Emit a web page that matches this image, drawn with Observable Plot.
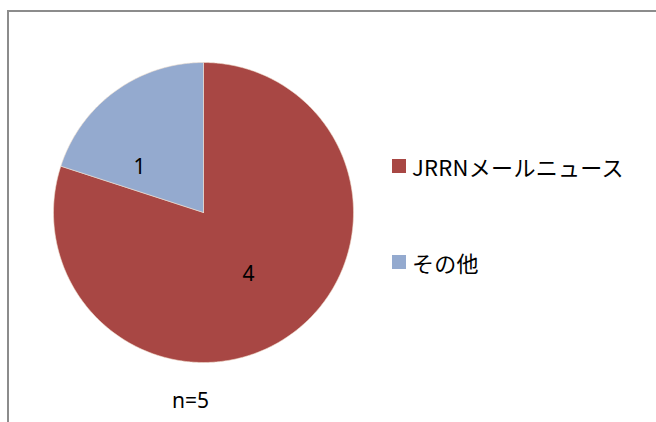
<!DOCTYPE html>
<html>
<head>
<meta charset="utf-8">
<script src="https://cdn.jsdelivr.net/npm/d3@7"></script>
<script src="https://cdn.jsdelivr.net/npm/@observablehq/plot@0.6"></script>
<style>
  html, body { margin: 0; padding: 0; background: #fff; overflow: hidden; }
  #wrap { position: relative; width: 656px; height: 422px; overflow: hidden;
          font-family: "Noto Sans CJK JP", "Noto Sans", sans-serif; }
  #frame { position: absolute; left: 7px; top: 10px; width: 720px; height: 500px;
           border: 2px solid #8c8c8c; box-sizing: border-box; }
  #chart { position: absolute; left: 0; top: 0; }
  #legend { position: absolute; left: 392px; top: 153px; }
  .item { display: flex; align-items: center; height: 26px; font-size: 22px; color: #000;
          white-space: nowrap; letter-spacing: 0.3px; }
  .sw { width: 14px; height: 14px; margin-right: 6px; flex: none; }
  #caption { position: absolute; left: 172px; top: 386px; font-size: 21px; color: #000;
             font-family: "Noto Sans", "Noto Sans CJK JP", sans-serif; }
</style>
</head>
<body>
<div id="wrap">
  <div id="frame"></div>
  <div id="chart"></div>
  <div id="legend"></div>
  <div id="caption"></div>
</div>
<script>
const categories = ["JRRNメールニュース", "その他"];
const values = [4, 1];
const colors = ["#a84744", "#94aacf"];

const total = d3.sum(values);
const arcs = d3.pie().sort(null).value(d => d)(values);

const polys = [];
const labels = [];
arcs.forEach((a, i) => {
  const cat = categories[i];
  polys.push({cat, x: 0, y: 0});
  const steps = Math.max(2, Math.ceil((a.endAngle - a.startAngle) / (Math.PI / 360)));
  for (let k = 0; k <= steps; k++) {
    const t = a.startAngle + (a.endAngle - a.startAngle) * k / steps;
    polys.push({cat, x: Math.sin(t), y: Math.cos(t)});
  }
  polys.push({cat, x: 0, y: 0});
  const m = (a.startAngle + a.endAngle) / 2;
  labels.push({cat, value: values[i], x: 0.51 * Math.sin(m), y: 0.51 * Math.cos(m)});
});

const plot = Plot.plot({
  width: 656,
  height: 422,
  marginLeft: 53,
  marginRight: 303,
  marginTop: 62,
  marginBottom: 60,
  x: {domain: [-1, 1], axis: null},
  y: {domain: [-1, 1], axis: null},
  color: {domain: categories, range: colors},
  style: {background: "transparent", fontFamily: "Noto Sans, sans-serif"},
  marks: [
    Plot.line(polys, {x: "x", y: "y", z: "cat", fill: "cat", stroke: "#f2e0d0", strokeWidth: 0.6, curve: "linear"}),
    Plot.text(labels.slice(0, 1), {x: "x", y: "y", text: d => String(d.value), fontSize: 21, fill: "#000"}),
    Plot.text(labels.slice(1), {x: "x", y: "y", text: d => String(d.value), fontSize: 21, fill: "#000", dx: -19, dy: 17})
  ]
});
document.getElementById("chart").appendChild(plot);

const legend = document.getElementById("legend");
categories.forEach((c, i) => {
  const item = document.createElement("div");
  item.className = "item";
  item.style.marginBottom = i === 0 ? "70px" : "0";
  const sw = document.createElement("span");
  sw.className = "sw";
  sw.style.background = colors[i];
  const tx = document.createElement("span");
  tx.textContent = c;
  item.appendChild(sw);
  item.appendChild(tx);
  legend.appendChild(item);
});

document.getElementById("caption").textContent = "n=" + total;
</script>
</body>
</html>
